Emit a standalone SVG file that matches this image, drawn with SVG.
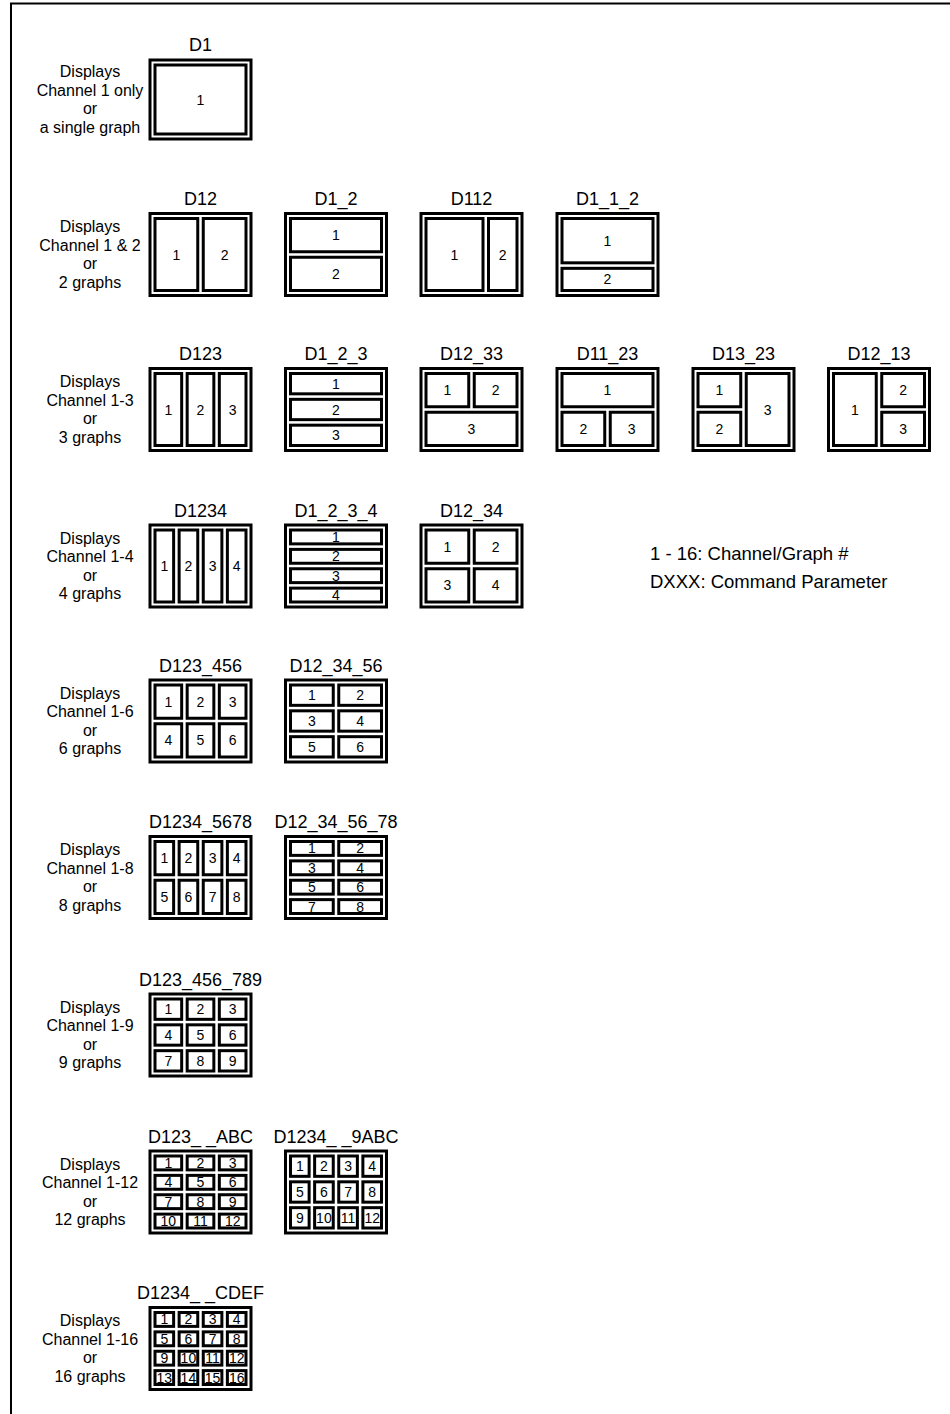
<svg xmlns="http://www.w3.org/2000/svg" width="950" height="1414" viewBox="0 0 950 1414">
<style>
.frame{fill:none;stroke:#000;stroke-width:2}
.o{fill:#fff;stroke:#000;stroke-width:3}
.c{fill:#fff;stroke:#000;stroke-width:3}
text{font-family:"Liberation Sans",Arial,Helvetica,sans-serif;fill:#000}
.t{font-size:18px;text-anchor:middle}
.d{font-size:16px;text-anchor:middle}
.n{font-size:14px;text-anchor:middle}
.l{font-size:18.5px}
</style>
<rect x="0" y="0" width="950" height="1414" fill="#fff"/>
<path class="frame" d="M11,1414 V3.5 H950"/>
<g id="connectors"/>
<g id="descriptions">
<text class="d" x="90" y="77">Displays</text><text class="d" x="90" y="95.5">Channel 1 only</text><text class="d" x="90" y="114">or</text><text class="d" x="90" y="132.5">a single graph</text>
<text class="d" x="90" y="232">Displays</text><text class="d" x="90" y="250.5">Channel 1 &amp; 2</text><text class="d" x="90" y="269">or</text><text class="d" x="90" y="287.5">2 graphs</text>
<text class="d" x="90" y="387">Displays</text><text class="d" x="90" y="405.5">Channel 1-3</text><text class="d" x="90" y="424">or</text><text class="d" x="90" y="442.5">3 graphs</text>
<text class="d" x="90" y="543.5">Displays</text><text class="d" x="90" y="562">Channel 1-4</text><text class="d" x="90" y="580.5">or</text><text class="d" x="90" y="599">4 graphs</text>
<text class="d" x="90" y="698.5">Displays</text><text class="d" x="90" y="717">Channel 1-6</text><text class="d" x="90" y="735.5">or</text><text class="d" x="90" y="754">6 graphs</text>
<text class="d" x="90" y="855">Displays</text><text class="d" x="90" y="873.5">Channel 1-8</text><text class="d" x="90" y="892">or</text><text class="d" x="90" y="910.5">8 graphs</text>
<text class="d" x="90" y="1012.5">Displays</text><text class="d" x="90" y="1031">Channel 1-9</text><text class="d" x="90" y="1049.5">or</text><text class="d" x="90" y="1068">9 graphs</text>
<text class="d" x="90" y="1169.5">Displays</text><text class="d" x="90" y="1188">Channel 1-12</text><text class="d" x="90" y="1206.5">or</text><text class="d" x="90" y="1225">12 graphs</text>
<text class="d" x="90" y="1326">Displays</text><text class="d" x="90" y="1344.5">Channel 1-16</text><text class="d" x="90" y="1363">or</text><text class="d" x="90" y="1381.5">16 graphs</text>
</g>
<g id="legend">
<text class="l" x="650" y="560">1 - 16: Channel/Graph #</text>
<text class="l" x="650" y="588">DXXX: Command Parameter</text>
</g>

<g id="D1" transform="translate(150,60)">
<text class="t" x="50.5" y="-9">D1</text>
<rect class="o" x="0" y="0" width="101" height="79"/>
<rect class="c" x="5" y="5" width="91" height="69"/>
<text class="n" x="50.5" y="44.5">1</text>
</g>

<g id="D12" transform="translate(150,213.5)">
<text class="t" x="50.5" y="-8.5">D12</text>
<rect class="o" x="0" y="0" width="101" height="82"/>
<rect class="c" x="5" y="5" width="42.75" height="72"/>
<rect class="c" x="53.25" y="5" width="42.75" height="72"/>
<text class="n" x="26.4" y="46">1</text><text class="n" x="74.6" y="46">2</text>
</g>

<g id="D1_2" transform="translate(285.5,213.5)">
<text class="t" x="50.5" y="-8.5">D1_2</text>
<rect class="o" x="0" y="0" width="101" height="82"/>
<rect class="c" x="5" y="5" width="91" height="33.25"/>
<rect class="c" x="5" y="43.75" width="91" height="33.25"/>
<text class="n" x="50.5" y="26.6">1</text><text class="n" x="50.5" y="65.4">2</text>
</g>

<g id="D112" transform="translate(421,213.5)">
<text class="t" x="50.5" y="-8.5">D112</text>
<rect class="o" x="0" y="0" width="101" height="82"/>
<rect class="c" x="5" y="5" width="57" height="72"/>
<rect class="c" x="67.5" y="5" width="28.5" height="72"/>
<text class="n" x="33.5" y="46">1</text><text class="n" x="81.75" y="46">2</text>
</g>

<g id="D1_1_2" transform="translate(557,213.5)">
<text class="t" x="50.5" y="-8.5">D1_1_2</text>
<rect class="o" x="0" y="0" width="101" height="82"/>
<rect class="c" x="5" y="5" width="91" height="44.33"/>
<rect class="c" x="5" y="54.83" width="91" height="22.17"/>
<text class="n" x="50.5" y="32.2">1</text><text class="n" x="50.5" y="70.9">2</text>
</g>

<g id="D123" transform="translate(150,368.5)">
<text class="t" x="50.5" y="-8.5">D123</text>
<rect class="o" x="0" y="0" width="101" height="82"/>
<rect class="c" x="5" y="5" width="26.67" height="72"/>
<rect class="c" x="37.17" y="5" width="26.67" height="72"/>
<rect class="c" x="69.33" y="5" width="26.67" height="72"/>
<text class="n" x="18.33" y="46">1</text><text class="n" x="50.5" y="46">2</text><text class="n" x="82.67" y="46">3</text>
</g>

<g id="D1_2_3" transform="translate(285.5,368.5)">
<text class="t" x="50.5" y="-8.5">D1_2_3</text>
<rect class="o" x="0" y="0" width="101" height="82"/>
<rect class="c" x="5" y="5" width="91" height="20.33"/>
<rect class="c" x="5" y="30.83" width="91" height="20.33"/>
<rect class="c" x="5" y="56.67" width="91" height="20.33"/>
<text class="n" x="50.5" y="20.2">1</text><text class="n" x="50.5" y="46">2</text><text class="n" x="50.5" y="71.9">3</text>
</g>

<g id="D12_33" transform="translate(421,368.5)">
<text class="t" x="50.5" y="-8.5">D12_33</text>
<rect class="o" x="0" y="0" width="101" height="82"/>
<rect class="c" x="5" y="5" width="42.75" height="33.25"/>
<rect class="c" x="53.25" y="5" width="42.75" height="33.25"/>
<rect class="c" x="5" y="43.75" width="91" height="33.25"/>
<text class="n" x="26.4" y="26.6">1</text><text class="n" x="74.6" y="26.6">2</text><text class="n" x="50.5" y="65.4">3</text>
</g>

<g id="D11_23" transform="translate(557,368.5)">
<text class="t" x="50.5" y="-8.5">D11_23</text>
<rect class="o" x="0" y="0" width="101" height="82"/>
<rect class="c" x="5" y="5" width="91" height="33.25"/>
<rect class="c" x="5" y="43.75" width="42.75" height="33.25"/>
<rect class="c" x="53.25" y="43.75" width="42.75" height="33.25"/>
<text class="n" x="50.5" y="26.6">1</text><text class="n" x="26.4" y="65.4">2</text><text class="n" x="74.6" y="65.4">3</text>
</g>

<g id="D13_23" transform="translate(693,368.5)">
<text class="t" x="50.5" y="-8.5">D13_23</text>
<rect class="o" x="0" y="0" width="101" height="82"/>
<rect class="c" x="5" y="5" width="42.75" height="33.25"/>
<rect class="c" x="5" y="43.75" width="42.75" height="33.25"/>
<rect class="c" x="53.25" y="5" width="42.75" height="72"/>
<text class="n" x="26.4" y="26.6">1</text><text class="n" x="26.4" y="65.4">2</text><text class="n" x="74.6" y="46">3</text>
</g>

<g id="D12_13" transform="translate(828.5,368.5)">
<text class="t" x="50.5" y="-8.5">D12_13</text>
<rect class="o" x="0" y="0" width="101" height="82"/>
<rect class="c" x="5" y="5" width="42.75" height="72"/>
<rect class="c" x="53.25" y="5" width="42.75" height="33.25"/>
<rect class="c" x="53.25" y="43.75" width="42.75" height="33.25"/>
<text class="n" x="26.4" y="46">1</text><text class="n" x="74.6" y="26.6">2</text><text class="n" x="74.6" y="65.4">3</text>
</g>

<g id="D1234" transform="translate(150,525)">
<text class="t" x="50.5" y="-8.5">D1234</text>
<rect class="o" x="0" y="0" width="101" height="82"/>
<rect class="c" x="5" y="5" width="18.625" height="72"/>
<rect class="c" x="29.125" y="5" width="18.625" height="72"/>
<rect class="c" x="53.25" y="5" width="18.625" height="72"/>
<rect class="c" x="77.375" y="5" width="18.625" height="72"/>
<text class="n" x="14.3" y="46">1</text><text class="n" x="38.4" y="46">2</text><text class="n" x="62.6" y="46">3</text><text class="n" x="86.7" y="46">4</text>
</g>

<g id="D1_2_3_4" transform="translate(285.5,525)">
<text class="t" x="50.5" y="-8.5">D1_2_3_4</text>
<rect class="o" x="0" y="0" width="101" height="82"/>
<rect class="c" x="5" y="5" width="91" height="13.875"/>
<rect class="c" x="5" y="24.375" width="91" height="13.875"/>
<rect class="c" x="5" y="43.75" width="91" height="13.875"/>
<rect class="c" x="5" y="63.125" width="91" height="13.875"/>
<text class="n" x="50.5" y="16.9">1</text><text class="n" x="50.5" y="36.3">2</text><text class="n" x="50.5" y="55.7">3</text><text class="n" x="50.5" y="75.1">4</text>
</g>

<g id="D12_34" transform="translate(421,525)">
<text class="t" x="50.5" y="-8.5">D12_34</text>
<rect class="o" x="0" y="0" width="101" height="82"/>
<rect class="c" x="5" y="5" width="42.75" height="33.25"/>
<rect class="c" x="53.25" y="5" width="42.75" height="33.25"/>
<rect class="c" x="5" y="43.75" width="42.75" height="33.25"/>
<rect class="c" x="53.25" y="43.75" width="42.75" height="33.25"/>
<text class="n" x="26.4" y="26.6">1</text><text class="n" x="74.6" y="26.6">2</text><text class="n" x="26.4" y="65.4">3</text><text class="n" x="74.6" y="65.4">4</text>
</g>

<g id="D123_456" transform="translate(150,680)">
<text class="t" x="50.5" y="-8.5">D123_456</text>
<rect class="o" x="0" y="0" width="101" height="82"/>
<rect class="c" x="5" y="5" width="26.67" height="33.25"/>
<rect class="c" x="37.17" y="5" width="26.67" height="33.25"/>
<rect class="c" x="69.33" y="5" width="26.67" height="33.25"/>
<rect class="c" x="5" y="43.75" width="26.67" height="33.25"/>
<rect class="c" x="37.17" y="43.75" width="26.67" height="33.25"/>
<rect class="c" x="69.33" y="43.75" width="26.67" height="33.25"/>
<text class="n" x="18.33" y="26.6">1</text><text class="n" x="50.5" y="26.6">2</text><text class="n" x="82.67" y="26.6">3</text>
<text class="n" x="18.33" y="65.4">4</text><text class="n" x="50.5" y="65.4">5</text><text class="n" x="82.67" y="65.4">6</text>
</g>

<g id="D12_34_56" transform="translate(285.5,680)">
<text class="t" x="50.5" y="-8.5">D12_34_56</text>
<rect class="o" x="0" y="0" width="101" height="82"/>
<rect class="c" x="5" y="5" width="42.75" height="20.33"/>
<rect class="c" x="53.25" y="5" width="42.75" height="20.33"/>
<rect class="c" x="5" y="30.83" width="42.75" height="20.33"/>
<rect class="c" x="53.25" y="30.83" width="42.75" height="20.33"/>
<rect class="c" x="5" y="56.67" width="42.75" height="20.33"/>
<rect class="c" x="53.25" y="56.67" width="42.75" height="20.33"/>
<text class="n" x="26.4" y="20.2">1</text><text class="n" x="74.6" y="20.2">2</text>
<text class="n" x="26.4" y="46">3</text><text class="n" x="74.6" y="46">4</text>
<text class="n" x="26.4" y="71.9">5</text><text class="n" x="74.6" y="71.9">6</text>
</g>

<g id="D1234_5678" transform="translate(150,836.5)">
<text class="t" x="50.5" y="-8.5">D1234_5678</text>
<rect class="o" x="0" y="0" width="101" height="82"/>
<rect class="c" x="5" y="5" width="18.625" height="33.25"/>
<rect class="c" x="29.125" y="5" width="18.625" height="33.25"/>
<rect class="c" x="53.25" y="5" width="18.625" height="33.25"/>
<rect class="c" x="77.375" y="5" width="18.625" height="33.25"/>
<rect class="c" x="5" y="43.75" width="18.625" height="33.25"/>
<rect class="c" x="29.125" y="43.75" width="18.625" height="33.25"/>
<rect class="c" x="53.25" y="43.75" width="18.625" height="33.25"/>
<rect class="c" x="77.375" y="43.75" width="18.625" height="33.25"/>
<text class="n" x="14.3" y="26.6">1</text><text class="n" x="38.4" y="26.6">2</text><text class="n" x="62.6" y="26.6">3</text><text class="n" x="86.7" y="26.6">4</text>
<text class="n" x="14.3" y="65.4">5</text><text class="n" x="38.4" y="65.4">6</text><text class="n" x="62.6" y="65.4">7</text><text class="n" x="86.7" y="65.4">8</text>
</g>

<g id="D12_34_56_78" transform="translate(285.5,836.5)">
<text class="t" x="50.5" y="-8.5">D12_34_56_78</text>
<rect class="o" x="0" y="0" width="101" height="82"/>
<rect class="c" x="5" y="5" width="42.75" height="13.875"/>
<rect class="c" x="53.25" y="5" width="42.75" height="13.875"/>
<rect class="c" x="5" y="24.375" width="42.75" height="13.875"/>
<rect class="c" x="53.25" y="24.375" width="42.75" height="13.875"/>
<rect class="c" x="5" y="43.75" width="42.75" height="13.875"/>
<rect class="c" x="53.25" y="43.75" width="42.75" height="13.875"/>
<rect class="c" x="5" y="63.125" width="42.75" height="13.875"/>
<rect class="c" x="53.25" y="63.125" width="42.75" height="13.875"/>
<text class="n" x="26.4" y="16.9">1</text><text class="n" x="74.6" y="16.9">2</text>
<text class="n" x="26.4" y="36.3">3</text><text class="n" x="74.6" y="36.3">4</text>
<text class="n" x="26.4" y="55.7">5</text><text class="n" x="74.6" y="55.7">6</text>
<text class="n" x="26.4" y="75.1">7</text><text class="n" x="74.6" y="75.1">8</text>
</g>

<g id="D123_456_789" transform="translate(150,994)">
<text class="t" x="50.5" y="-8.5">D123_456_789</text>
<rect class="o" x="0" y="0" width="101" height="82"/>
<rect class="c" x="5" y="5" width="26.67" height="20.33"/>
<rect class="c" x="37.17" y="5" width="26.67" height="20.33"/>
<rect class="c" x="69.33" y="5" width="26.67" height="20.33"/>
<rect class="c" x="5" y="30.83" width="26.67" height="20.33"/>
<rect class="c" x="37.17" y="30.83" width="26.67" height="20.33"/>
<rect class="c" x="69.33" y="30.83" width="26.67" height="20.33"/>
<rect class="c" x="5" y="56.67" width="26.67" height="20.33"/>
<rect class="c" x="37.17" y="56.67" width="26.67" height="20.33"/>
<rect class="c" x="69.33" y="56.67" width="26.67" height="20.33"/>
<text class="n" x="18.33" y="20.2">1</text><text class="n" x="50.5" y="20.2">2</text><text class="n" x="82.67" y="20.2">3</text>
<text class="n" x="18.33" y="46">4</text><text class="n" x="50.5" y="46">5</text><text class="n" x="82.67" y="46">6</text>
<text class="n" x="18.33" y="71.9">7</text><text class="n" x="50.5" y="71.9">8</text><text class="n" x="82.67" y="71.9">9</text>
</g>

<g id="D123__ABC" transform="translate(150,1151)">
<text class="t" x="50.5" y="-8.5">D123_ _ABC</text>
<rect class="o" x="0" y="0" width="101" height="82"/>
<rect class="c" x="5" y="5" width="26.67" height="13.875"/>
<rect class="c" x="37.17" y="5" width="26.67" height="13.875"/>
<rect class="c" x="69.33" y="5" width="26.67" height="13.875"/>
<rect class="c" x="5" y="24.375" width="26.67" height="13.875"/>
<rect class="c" x="37.17" y="24.375" width="26.67" height="13.875"/>
<rect class="c" x="69.33" y="24.375" width="26.67" height="13.875"/>
<rect class="c" x="5" y="43.75" width="26.67" height="13.875"/>
<rect class="c" x="37.17" y="43.75" width="26.67" height="13.875"/>
<rect class="c" x="69.33" y="43.75" width="26.67" height="13.875"/>
<rect class="c" x="5" y="63.125" width="26.67" height="13.875"/>
<rect class="c" x="37.17" y="63.125" width="26.67" height="13.875"/>
<rect class="c" x="69.33" y="63.125" width="26.67" height="13.875"/>
<text class="n" x="18.33" y="16.9">1</text><text class="n" x="50.5" y="16.9">2</text><text class="n" x="82.67" y="16.9">3</text>
<text class="n" x="18.33" y="36.3">4</text><text class="n" x="50.5" y="36.3">5</text><text class="n" x="82.67" y="36.3">6</text>
<text class="n" x="18.33" y="55.7">7</text><text class="n" x="50.5" y="55.7">8</text><text class="n" x="82.67" y="55.7">9</text>
<text class="n" x="18.33" y="75.1">10</text><text class="n" x="50.5" y="75.1">11</text><text class="n" x="82.67" y="75.1">12</text>
</g>

<g id="D1234__9ABC" transform="translate(285.5,1151)">
<text class="t" x="50.5" y="-8.5">D1234_ _9ABC</text>
<rect class="o" x="0" y="0" width="101" height="82"/>
<rect class="c" x="5" y="5" width="18.625" height="20.33"/>
<rect class="c" x="29.125" y="5" width="18.625" height="20.33"/>
<rect class="c" x="53.25" y="5" width="18.625" height="20.33"/>
<rect class="c" x="77.375" y="5" width="18.625" height="20.33"/>
<rect class="c" x="5" y="30.83" width="18.625" height="20.33"/>
<rect class="c" x="29.125" y="30.83" width="18.625" height="20.33"/>
<rect class="c" x="53.25" y="30.83" width="18.625" height="20.33"/>
<rect class="c" x="77.375" y="30.83" width="18.625" height="20.33"/>
<rect class="c" x="5" y="56.67" width="18.625" height="20.33"/>
<rect class="c" x="29.125" y="56.67" width="18.625" height="20.33"/>
<rect class="c" x="53.25" y="56.67" width="18.625" height="20.33"/>
<rect class="c" x="77.375" y="56.67" width="18.625" height="20.33"/>
<text class="n" x="14.3" y="20.2">1</text><text class="n" x="38.4" y="20.2">2</text><text class="n" x="62.6" y="20.2">3</text><text class="n" x="86.7" y="20.2">4</text>
<text class="n" x="14.3" y="46">5</text><text class="n" x="38.4" y="46">6</text><text class="n" x="62.6" y="46">7</text><text class="n" x="86.7" y="46">8</text>
<text class="n" x="14.3" y="71.9">9</text><text class="n" x="38.4" y="71.9">10</text><text class="n" x="62.6" y="71.9">11</text><text class="n" x="86.7" y="71.9">12</text>
</g>

<g id="D1234__CDEF" transform="translate(150,1307.5)">
<text class="t" x="50.5" y="-8.5">D1234_ _CDEF</text>
<rect class="o" x="0" y="0" width="101" height="82"/>
<rect class="c" x="5" y="5" width="18.625" height="13.875"/>
<rect class="c" x="29.125" y="5" width="18.625" height="13.875"/>
<rect class="c" x="53.25" y="5" width="18.625" height="13.875"/>
<rect class="c" x="77.375" y="5" width="18.625" height="13.875"/>
<rect class="c" x="5" y="24.375" width="18.625" height="13.875"/>
<rect class="c" x="29.125" y="24.375" width="18.625" height="13.875"/>
<rect class="c" x="53.25" y="24.375" width="18.625" height="13.875"/>
<rect class="c" x="77.375" y="24.375" width="18.625" height="13.875"/>
<rect class="c" x="5" y="43.75" width="18.625" height="13.875"/>
<rect class="c" x="29.125" y="43.75" width="18.625" height="13.875"/>
<rect class="c" x="53.25" y="43.75" width="18.625" height="13.875"/>
<rect class="c" x="77.375" y="43.75" width="18.625" height="13.875"/>
<rect class="c" x="5" y="63.125" width="18.625" height="13.875"/>
<rect class="c" x="29.125" y="63.125" width="18.625" height="13.875"/>
<rect class="c" x="53.25" y="63.125" width="18.625" height="13.875"/>
<rect class="c" x="77.375" y="63.125" width="18.625" height="13.875"/>
<text class="n" x="14.3" y="16.9">1</text><text class="n" x="38.4" y="16.9">2</text><text class="n" x="62.6" y="16.9">3</text><text class="n" x="86.7" y="16.9">4</text>
<text class="n" x="14.3" y="36.3">5</text><text class="n" x="38.4" y="36.3">6</text><text class="n" x="62.6" y="36.3">7</text><text class="n" x="86.7" y="36.3">8</text>
<text class="n" x="14.3" y="55.7">9</text><text class="n" x="38.4" y="55.7">10</text><text class="n" x="62.6" y="55.7">11</text><text class="n" x="86.7" y="55.7">12</text>
<text class="n" x="14.3" y="75.1">13</text><text class="n" x="38.4" y="75.1">14</text><text class="n" x="62.6" y="75.1">15</text><text class="n" x="86.7" y="75.1">16</text>
</g>
</svg>
